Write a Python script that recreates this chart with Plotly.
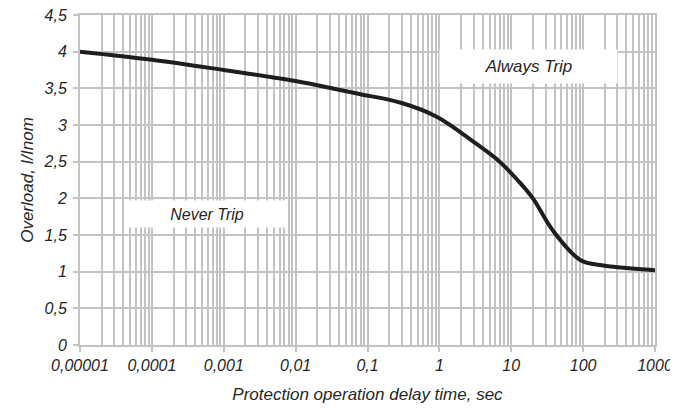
import plotly.graph_objects as go

# Data
delay_time = [0.00001, 0.0001, 0.001, 0.01, 0.04, 0.08, 0.3, 0.93, 3, 6.9, 13, 20, 38, 91, 170, 400, 1000]
overload = [4.0, 3.89, 3.75, 3.6, 3.48, 3.42, 3.3, 3.11, 2.77, 2.5, 2.22, 2.0, 1.56, 1.16, 1.09, 1.05, 1.02]

x_tickvals = [0.00001, 0.0001, 0.001, 0.01, 0.1, 1, 10, 100, 1000]
x_ticktext = ["0,00001", "0,0001", "0,001", "0,01", "0,1", "1", "10", "100", "1000"]
y_tickvals = [0, 0.5, 1, 1.5, 2, 2.5, 3, 3.5, 4, 4.5]
y_ticktext = ["0", "0,5", "1", "1,5", "2", "2,5", "3", "3,5", "4", "4,5"]

minor_x = [m * 10.0 ** k for k in range(-5, 3) for m in range(2, 10)]

grid = "#c3c3c3"
txt = "#262626"
font_fam = "Liberation Sans, Arial, sans-serif"

fig = go.Figure()
fig.add_trace(go.Scatter(
    x=delay_time, y=overload, mode="lines",
    line=dict(color="#1e1e1e", width=4, shape="spline", smoothing=1.0),
    showlegend=False, hoverinfo="skip",
))

fig.add_annotation(x=-3.233, y=1.79, xref="x", yref="y", text="<i>Never Trip</i>",
                   showarrow=False, bgcolor="white", width=156, height=26, borderpad=0,
                   font=dict(size=16, color=txt, family=font_fam))
fig.add_annotation(x=1.24, y=3.80, xref="x", yref="y", text="<i>Always Trip</i>",
                   showarrow=False, bgcolor="white", width=177, height=33, borderpad=0,
                   font=dict(size=17, color=txt, family=font_fam))

fig.update_xaxes(
    type="log", range=[-5, 3], automargin=False, ticklabeloverflow="allow",
    tickmode="array", tickvals=x_tickvals, ticktext=["<i>%s</i>" % t for t in x_ticktext],
    showgrid=True, gridcolor=grid, gridwidth=2,
    minor=dict(tickmode="array", tickvals=minor_x, showgrid=True, gridcolor=grid, gridwidth=2, ticks=""),
    ticks="outside", ticklen=5, tickcolor=grid, tickwidth=2,
    showline=True, linecolor=grid, linewidth=2, mirror=True,
    zeroline=False,
    tickfont=dict(size=16, color=txt, family=font_fam),
    title=dict(text="<i>Protection operation delay time, sec</i>", standoff=16,
               font=dict(size=17, color=txt, family=font_fam)),
)
fig.update_yaxes(
    range=[0, 4.5], automargin=False, ticklabeloverflow="allow",
    tickmode="array", tickvals=y_tickvals, ticktext=["<i>%s</i>" % t for t in y_ticktext],
    showgrid=True, gridcolor=grid, gridwidth=2,
    ticks="outside", ticklen=5, tickcolor=grid, tickwidth=2, ticklabelstandoff=3,
    showline=True, linecolor=grid, linewidth=2, mirror=True,
    zeroline=False,
    tickfont=dict(size=16, color=txt, family=font_fam),
    title=dict(text="<i>Overload, I/Inom</i>", standoff=6,
               font=dict(size=17, color=txt, family=font_fam)),
)

fig.update_layout(
    width=670, height=396,
    margin=dict(l=72, r=23, t=7, b=59),
    plot_bgcolor="white", paper_bgcolor="white",
)

fig.write_html("out.html")
